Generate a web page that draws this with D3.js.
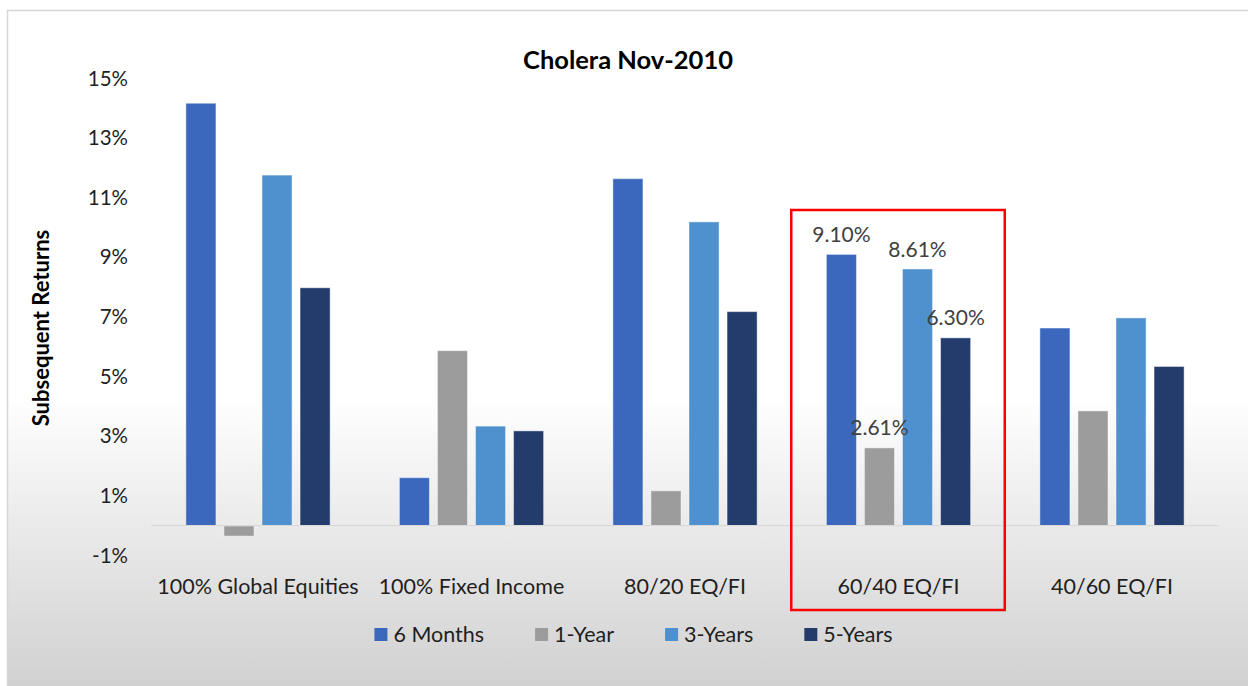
<!DOCTYPE html>
<html>
<head>
<meta charset="utf-8">
<script src="https://cdn.jsdelivr.net/npm/d3@7"></script>
<style>
  body { margin: 0; background: #fff; }
  svg { display: block; font-family: Lato, "Open Sans", sans-serif; }
</style>
</head>
<body>
<svg id="chart"></svg>
<script>
var W = 1248, H = 686;

// data
var categories = ["100% Global Equities", "100% Fixed Income", "80/20 EQ/FI", "60/40 EQ/FI", "40/60 EQ/FI"];
var seriesNames = ["6 Months", "1-Year", "3-Years", "5-Years"];
var sixMonths = [14.17, 1.61, 11.64, 9.10, 6.63];
var oneYear   = [-0.35, 5.87, 1.17, 2.61, 3.85];
var threeYears = [11.76, 3.34, 10.19, 8.61, 6.97];
var fiveYears  = [7.98, 3.18, 7.18, 6.30, 5.34];
var yTicks = [-1, 1, 3, 5, 7, 9, 11, 13, 15];
var labelled = "60/40 EQ/FI";

var seriesValues = [sixMonths, oneYear, threeYears, fiveYears];
var colors = ["#3b68bd", "#9c9c9c", "#4f91cf", "#233c6c"];

var svg = d3.select("#chart").attr("width", W).attr("height", H);

// background: white fading to grey at the bottom
var defs = svg.append("defs");
var grad = defs.append("linearGradient").attr("id", "bg")
  .attr("x1", 0).attr("y1", 0).attr("x2", 0).attr("y2", 1);
grad.append("stop").attr("offset", "0.57").attr("stop-color", "#ffffff");
grad.append("stop").attr("offset", "1").attr("stop-color", "#d1d1d1");

svg.append("rect").attr("width", W).attr("height", H).attr("fill", "#fff");
svg.append("rect").attr("x", 7).attr("y", 10).attr("width", W - 7).attr("height", H - 10)
  .attr("fill", "url(#bg)");
svg.append("path").attr("d", "M7.5," + H + "V10.5H" + W)
  .attr("fill", "none").attr("stroke", "#d6d6d6").attr("stroke-width", 1.5);

// scales
var x0 = d3.scaleBand().domain(categories).range([151.25, 1218.75]).padding(0);
var x1 = d3.scaleBand().domain(seriesNames).range([0, x0.bandwidth()])
  .paddingInner(0.21).paddingOuter(0.91);
var y = d3.scaleLinear().domain([-1, 15]).range([555.5, 78.5]);

// title
svg.append("text")
  .attr("x", 628).attr("y", 69)
  .attr("text-anchor", "middle")
  .attr("font-size", 25.5).attr("font-weight", "bold").attr("fill", "#000")
  .text("Cholera Nov-2010");

// y axis title
svg.append("text")
  .attr("transform", "translate(49," + 328 + ") rotate(-90)")
  .attr("text-anchor", "middle")
  .attr("font-size", 22).attr("font-weight", "bold").attr("fill", "#000")
  .text("Subsequent Returns");

// y axis: labels only
var yAxis = svg.append("g")
  .attr("transform", "translate(128,0)")
  .call(d3.axisLeft(y).tickValues(yTicks).tickSize(0).tickPadding(0)
    .tickFormat(function(d){ return d + "%"; }));
yAxis.select(".domain").remove();
yAxis.selectAll("text")
  .attr("font-family", "Lato, sans-serif")
  .attr("font-size", 20.5).attr("fill", "#1f1f1f");

// bars
var groups = svg.append("g").selectAll("g")
  .data(categories)
  .join("g")
  .attr("transform", function(c){ return "translate(" + x0(c) + ",0)"; });

groups.selectAll("rect")
  .data(function(c, i){
    return seriesNames.map(function(s, j){ return {cat: c, series: s, value: seriesValues[j][i], idx: j}; });
  })
  .join("rect")
  .attr("x", function(d){ return x1(d.series); })
  .attr("y", function(d){ return y(Math.max(0, d.value)); })
  .attr("width", x1.bandwidth())
  .attr("height", function(d){ return Math.abs(y(d.value) - y(0)); })
  .attr("fill", function(d){ return colors[d.idx]; })
  .attr("stroke", "#ffffff").attr("stroke-opacity", 0.45).attr("stroke-width", 1);

// zero line
svg.append("line")
  .attr("x1", x0.range()[0]).attr("x2", x0.range()[1])
  .attr("y1", y(0)).attr("y2", y(0))
  .attr("stroke", "#d9d9d9").attr("stroke-width", 1.2);

// data labels on the highlighted group
groups.filter(function(c){ return c === labelled; })
  .selectAll("text.lbl")
  .data(function(c, i){
    var k = categories.indexOf(c);
    return seriesNames.map(function(s, j){ return {series: s, value: seriesValues[j][k]}; });
  })
  .join("text")
  .attr("class", "lbl")
  .attr("x", function(d){ return x1(d.series) + x1.bandwidth() / 2; })
  .attr("y", function(d){ return y(d.value) - 12.5; })
  .attr("text-anchor", "middle")
  .attr("font-size", 21).attr("fill", "#404040")
  .text(function(d){ return d.value.toFixed(2) + "%"; });

// category labels
svg.append("g").selectAll("text")
  .data(categories)
  .join("text")
  .attr("x", function(c){ return x0(c) + x0.bandwidth() / 2; })
  .attr("y", 594)
  .attr("text-anchor", "middle")
  .attr("font-size", 21.5).attr("fill", "#1f1f1f")
  .text(function(c){ return c; });

// highlight box
svg.append("rect")
  .attr("x", x0(labelled) - 0.5).attr("y", 210)
  .attr("width", x0.bandwidth()).attr("height", 400)
  .attr("fill", "none").attr("stroke", "#ff0000").attr("stroke-width", 2.5);

// legend
var legend = svg.append("g");
var items = legend.selectAll("g")
  .data(seriesNames)
  .join("g");
items.append("rect")
  .attr("width", 13).attr("height", 13)
  .attr("y", 628)
  .attr("fill", function(d, i){ return colors[i]; });
items.append("text")
  .attr("x", 19).attr("y", 642)
  .attr("font-size", 21.5).attr("fill", "#1f1f1f")
  .text(function(d){ return d; });

var lx = 0, offsets = [];
items.each(function(d){
  offsets.push(lx);
  lx += 19 + this.querySelector("text").getComputedTextLength() + 51;
});
var totalW = lx - 51;
var startX = 633.5 - totalW / 2;
items.attr("transform", function(d, i){ return "translate(" + (startX + offsets[i]) + ",0)"; });
</script>
</body>
</html>
